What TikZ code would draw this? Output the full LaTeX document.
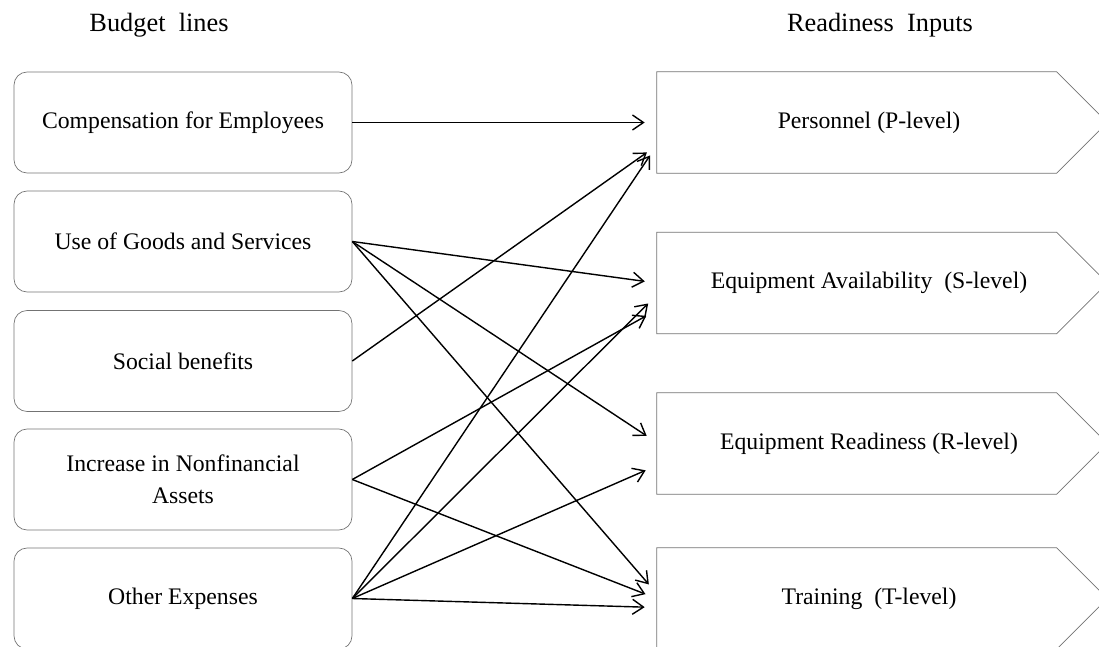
\documentclass[tikz,border=0pt]{standalone}
\usepackage{fontspec}
\setmainfont{Liberation Serif}
\usepackage{tikz}
\usetikzlibrary{arrows.meta,calc}
\newcommand{\BoxFont}{\fontsize{13.5}{18}\selectfont}
\newcommand{\HeadFont}{\fontsize{15}{18}\selectfont}
\tikzset{
	budget/.style={draw=black!55, rounded corners=0.26cm, minimum width=6.76cm, minimum height=2.02cm, inner sep=0pt, align=center, font=\BoxFont},
	ready/.style={minimum width=8.48cm, minimum height=2.02cm, inner sep=0pt, font=\BoxFont},
	link/.style={-{Straight Barb[length=0.22cm,width=0.3cm]}, line width=0.8pt, shorten >=0.24cm}
}
\newcommand{\ReadyBox}[3]{
	\node[ready] (#1) at (869,#2) {#3};
	\draw[draw=black!55] (#1.north west) --++ (8cm,0) -- ([xshift=0.52cm]#1.east) -- ([xshift=8cm]#1.south west) -- (#1.south west) -- cycle;
}

\begin{document}
\begin{tikzpicture}[x=0.02cm,y=-0.02cm]
		\useasboundingbox (0,0) rectangle (1099,646);
		\clip (0,0) rectangle (1099,646);
		\node[font=\HeadFont] (hbudget) at (159,25) {Budget\ \ lines};
		\node[font=\HeadFont] (hready) at (880,25) {Readiness\ \ Inputs};
		\foreach \name/\y/\txt in {comp/122.5/{Compensation for Employees}, goods/241.5/{Use of Goods and Services}, social/361/{Social benefits}, incr/479.5/{Increase in Nonfinancial\\Assets}, other/598.5/{Other Expenses}}{
			\node[budget] (\name) at (183,\y) {\txt};
		}
		\ReadyBox{P}{122.5}{Personnel (P-level)}
		\ReadyBox{S}{283}{Equipment Availability\ \ (S-level)}
		\ReadyBox{R}{443.5}{Equipment Readiness (R-level)}
		\ReadyBox{T}{598.5}{Training\ \ (T-level)}
		% links
		\foreach \a/\b/\dy in {comp/P/0, goods/S/0, goods/R/-1, goods/T/-5, social/P/23, incr/S/27, incr/T/0, other/P/23, other/S/12, other/R/22, other/T/9}{
			\draw[link] (\a.east) -- ($(\b.west)+(0,\dy)$);
		}
\end{tikzpicture}
\end{document}
